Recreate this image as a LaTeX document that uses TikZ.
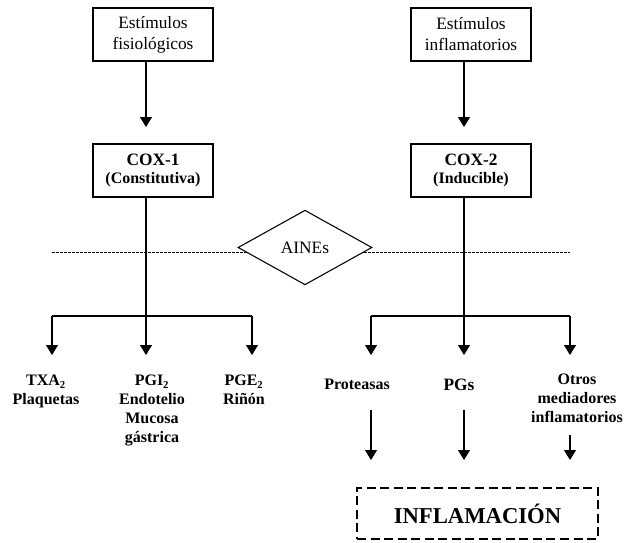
\documentclass[tikz,border=0pt]{standalone}
\usepackage{fontspec}
\setmainfont{Liberation Serif}
\usetikzlibrary{positioning, calc, shapes.geometric, arrows.meta, decorations.markings}
\tikzstyle{Arrow} = [
%Create custom arrow style:
line width = 0.8pt,
decoration={
markings,
mark=at position 1 with {
\arrow{Triangle[length=7.5pt, width=9pt]}
}
},
shorten >= 3pt, preaction = {decorate}
]

\begin{document}
\begin{tikzpicture}[x=0.75pt, y=-0.75pt, line width=0.8pt,
			stimulus/.style = {rectangle, draw, text centered, align=center, inner sep=0pt, minimum width=90pt, minimum height=39.75pt, font=\fontsize{13}{15.75}\selectfont},
			enzyme/.style = {rectangle, draw, text centered, align=center, inner sep=0pt, minimum width=90pt, minimum height=39.75pt, font=\bfseries\fontsize{13}{13.5}\selectfont},
			product/.style = {text centered, align=center, inner sep=0pt, anchor=north, font=\bfseries\fontsize{12}{14.25}\selectfont},
			inhibitor/.style = {diamond, draw, fill=white, inner sep=0pt, minimum width=100.5pt, minimum height=56pt, font=\fontsize{13}{15}\selectfont},
			outcome/.style = {rectangle, draw, line width=1.2pt, dash pattern=on 6.75pt off 3.4pt, minimum width=180.75pt, minimum height=38.25pt, font=\bfseries\fontsize{17}{20}\selectfont},
		]
		\useasboundingbox (0,0) rectangle (633,543);

		\node[stimulus](SF) at (153,34.5){Estímulos\\fisiológicos};
		\node[stimulus](SI) at (471,34.5){Estímulos\\inflamatorios};
		\node[enzyme](C1) at (153,170.5){COX-1\\{\fontsize{12}{13.5}\selectfont(Constitutiva)}};
		\node[enzyme](C2) at (471,170.5){COX-2\\{\fontsize{12}{13.5}\selectfont(Inducible)}};

		\coordinate(SFt) at (146,127);
		\coordinate(SIt) at (464,127);
		\draw[Arrow](SF.south -| SFt)--(SFt);
		\draw[Arrow](SI.south -| SIt)--(SIt);

		% branch points
		\coordinate(J1) at (146,316);
		\coordinate(L1) at (52,316);
		\coordinate(R1) at (252,316);
		\coordinate(J2) at (464,316);
		\coordinate(L2) at (371,316);
		\coordinate(R2) at (570,316);
		\coordinate(J1t) at (146,355);
		\coordinate(L1t) at (52,355);
		\coordinate(R1t) at (252,355);
		\coordinate(J2t) at (464,355);
		\coordinate(L2t) at (371,355);
		\coordinate(R2t) at (570,355);

		\draw(C1.south -| J1)--(J1);
		\draw(C2.south -| J2)--(J2);
		\draw(L1)--(R1);
		\draw(L2)--(R2);
		\draw[Arrow](L1)--(L1t);
		\draw[Arrow](J1)--(J1t);
		\draw[Arrow](R1)--(R1t);
		\draw[Arrow](L2)--(L2t);
		\draw[Arrow](J2)--(J2t);
		\draw[Arrow](R2)--(R2t);

		\coordinate(DL) at (52,252);
		\coordinate(DR) at (570,252);
		\draw[line width=0.75pt, dash pattern=on 2pt off 1pt](DL)--(DR);
		\node[inhibitor](AI) at (305,247.5){AINEs};

		\node[product](TX) at (46,374.7){TXA\textsubscript{2}\\Plaquetas};
		\node[product](PI) at (152,374.7){PGI\textsubscript{2}\\Endotelio\\Mucosa\\gástrica};
		\node[product](PE) at (244,374.7){PGE\textsubscript{2}\\Riñón};
		\node[product](PR) at (357,378.7){Proteasas};
		\node[product, font=\bfseries\fontsize{13}{14.25}\selectfont](PG) at (459,378.3){PGs};
		\node[product](OT) at (577,373.7){Otros\\mediadores\\inflamatorios};

		\node[outcome](IN) at (477.5,513.5){INFLAMACIÓN};

		\coordinate(PRa) at (371,410);
		\coordinate(PRb) at (371,460);
		\coordinate(PGa) at (464,410);
		\coordinate(PGb) at (464,460);
		\coordinate(OTa) at (570,435);
		\coordinate(OTb) at (570,460);
		\draw[Arrow](PRa)--(PRb);
		\draw[Arrow](PGa)--(PGb);
		\draw[Arrow](OTa)--(OTb);

	\end{tikzpicture}
\end{document}
